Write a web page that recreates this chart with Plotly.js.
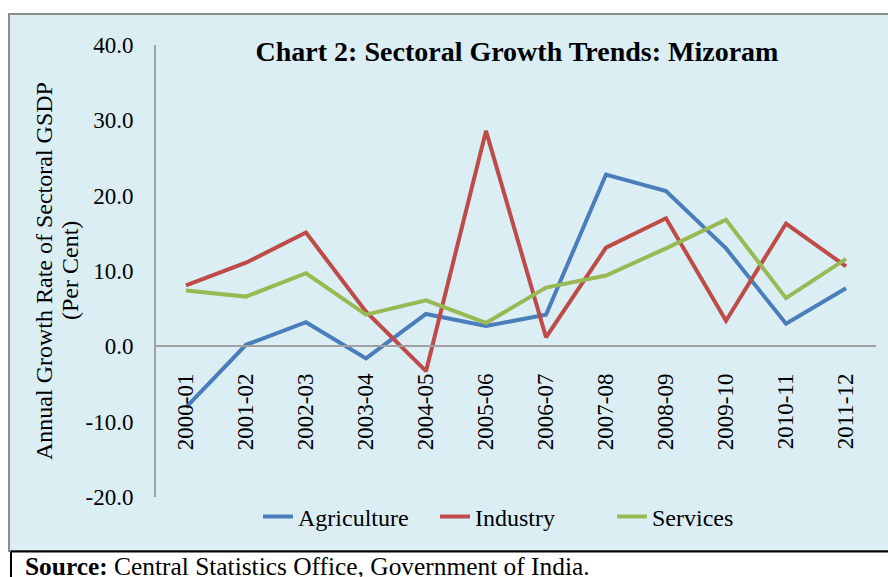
<!DOCTYPE html>
<html>
<head>
<meta charset="utf-8">
<script src="https://cdn.plot.ly/plotly-3.0.1.min.js"></script>
<style>
  html, body { margin: 0; padding: 0; background: #ffffff; }
  #chart { width: 888px; height: 577px; }
</style>
</head>
<body>
<div id="chart"></div>
<script>
// ---- data ----
const categories = ['2000-01','2001-02','2002-03','2003-04','2004-05','2005-06','2006-07','2007-08','2008-09','2009-10','2010-11','2011-12'];
const agriculture = [-8.1, 0.2, 3.2, -1.6, 4.3, 2.7, 4.2, 22.8, 20.6, 13.0, 3.0, 7.7];
const industry    = [8.1, 11.1, 15.1, 4.6, -3.3, 28.6, 1.2, 13.1, 17.0, 3.4, 16.3, 10.6];
const services    = [7.4, 6.6, 9.7, 4.2, 6.1, 3.1, 7.8, 9.4, 13.0, 16.8, 6.4, 11.6];
const yTickVals   = [-20, -10, 0, 10, 20, 30, 40];
const yTickText   = ['-20.0', '-10.0', '0.0', '10.0', '20.0', '30.0', '40.0'];
const seriesNames = ['Agriculture', 'Industry', 'Services'];
const yTitleLines = ['Annual Growth Rate of Sectoral GSDP', '(Per Cent)'];

const FONT = "'Liberation Serif', 'Times New Roman', serif";
const colors = ['#4A7EBB', '#BE4B48', '#98B954'];
const seriesData = [agriculture, industry, services];

const traces = seriesData.map((vals, i) => ({
  type: 'scatter',
  mode: 'lines',
  name: seriesNames[i],
  x: categories,
  y: vals,
  line: { color: colors[i], width: 4 },
  hoverinfo: 'x+y+name'
}));

// plot area: x 156..876 px, y 45..497 px
const PX = (px) => (px - 156) / 720;
const PY = (py) => (497 - py) / 452;

const layout = {
  width: 888,
  height: 577,
  margin: { l: 156, r: 12, t: 45, b: 80 },
  paper_bgcolor: '#ffffff',
  plot_bgcolor: 'rgba(0,0,0,0)',
  font: { family: FONT, size: 23, color: '#000000' },
  showlegend: true,
  title: {
    text: '<b>Chart 2: Sectoral Growth Trends: Mizoram</b>',
    font: { family: FONT, size: 28, color: '#000000' },
    xref: 'paper', x: PX(517), xanchor: 'center',
    yref: 'paper', y: PY(51), yanchor: 'middle'
  },
  xaxis: {
    type: 'category',
    range: [-0.5, 11.5],
    anchor: 'free',
    position: 1/3,
    showline: true,
    linecolor: '#A0A0A0',
    linewidth: 2,
    showgrid: false,
    zeroline: false,
    ticks: 'outside',
    ticklen: 17,
    tickcolor: 'rgba(0,0,0,0)',
    tickangle: -90,
    tickfont: { family: FONT, size: 23, color: '#000000' },
    fixedrange: true
  },
  yaxis: {
    range: [-20, 40],
    tickvals: yTickVals,
    ticktext: yTickText,
    showline: true,
    linecolor: '#A0A0A0',
    linewidth: 2,
    showgrid: false,
    zeroline: false,
    ticks: 'outside',
    ticklen: 16,
    tickcolor: 'rgba(0,0,0,0)',
    tickfont: { family: FONT, size: 23, color: '#000000' },
    automargin: false,
    fixedrange: true
  },
  legend: {
    orientation: 'h',
    x: PX(258), xanchor: 'left',
    y: PY(517), yanchor: 'middle',
    bgcolor: 'rgba(0,0,0,0)',
    font: { family: FONT, size: 24, color: '#000000' },
    entrywidth: 132,
    entrywidthmode: 'pixels'
  },
  shapes: [
    { type: 'rect', xref: 'paper', yref: 'paper', layer: 'below',
      x0: PX(9), x1: PX(900), y0: PY(551), y1: PY(14),
      fillcolor: '#DBEEF4', line: { color: '#8C8C8C', width: 2 } },
    { type: 'line', xref: 'paper', yref: 'paper',
      x0: PX(11), x1: PX(900), y0: PY(551.5), y1: PY(551.5),
      line: { color: '#000000', width: 2 } },
    { type: 'line', xref: 'paper', yref: 'paper',
      x0: PX(11), x1: PX(11), y0: PY(551.5), y1: PY(600),
      line: { color: '#000000', width: 2 } }
  ],
  annotations: [
    { xref: 'paper', yref: 'paper', x: PX(44), y: 0.5,
      xanchor: 'center', yanchor: 'middle', textangle: -90, showarrow: false,
      text: yTitleLines[0], font: { family: FONT, size: 24, color: '#000000' } },
    { xref: 'paper', yref: 'paper', x: PX(70), y: 0.5,
      xanchor: 'center', yanchor: 'middle', textangle: -90, showarrow: false,
      text: yTitleLines[1], font: { family: FONT, size: 24, color: '#000000' } },
    { xref: 'paper', yref: 'paper',
      x: PX(23), xanchor: 'left',
      y: PY(566), yanchor: 'middle',
      showarrow: false,
      text: '<b>Source:</b> Central Statistics Office, Government of India.',
      font: { family: FONT, size: 25.4, color: '#000000' } }
  ]
};

Plotly.newPlot('chart', traces, layout, { displayModeBar: false, staticPlot: true });
</script>
</body>
</html>
